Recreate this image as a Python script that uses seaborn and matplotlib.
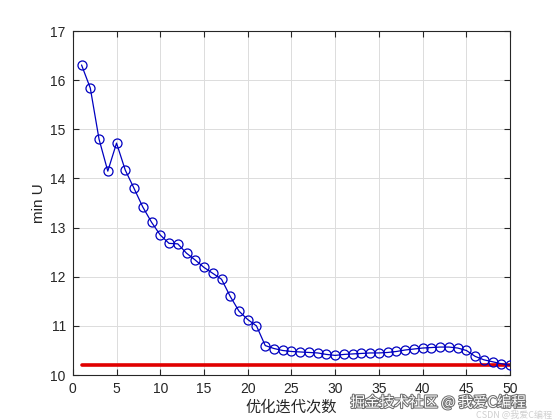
import matplotlib
matplotlib.use("Agg")
import matplotlib.pyplot as plt
import matplotlib.patheffects as pe
import seaborn as sns
import numpy as np
import pandas as pd

iterations = list(range(1, 51))
min_u = [16.31, 15.84, 14.80, 14.15, 14.72, 14.17, 13.80, 13.42, 13.11, 12.85,
         12.68, 12.67, 12.48, 12.34, 12.19, 12.07, 11.95, 11.60, 11.30, 11.13,
         11.00, 10.60, 10.54, 10.50, 10.48, 10.47, 10.46, 10.45, 10.42, 10.40,
         10.42, 10.43, 10.44, 10.45, 10.45, 10.46, 10.48, 10.51, 10.53, 10.55,
         10.56, 10.57, 10.57, 10.55, 10.50, 10.38, 10.31, 10.27, 10.23, 10.20]
ref_value = [10.2] * 50

xticks = [0, 5, 10, 15, 20, 25, 30, 35, 40, 45, 50]
yticks = [10, 11, 12, 13, 14, 15, 16, 17]

df = pd.DataFrame({"iter": iterations, "u": min_u, "ref": ref_value})

sns.set_theme(style="white")
plt.rcParams['font.family'] = ['Liberation Sans', 'Noto Sans CJK SC', 'DejaVu Sans']

fig = plt.figure(figsize=(5.6, 4.2), dpi=100)
ax = fig.add_axes([0.13, 0.107, 0.781, 0.819])

sns.lineplot(data=df, x="iter", y="ref", ax=ax, color="#e00000", linewidth=2.6, zorder=2)
sns.lineplot(data=df, x="iter", y="u", ax=ax, color="#0000c0", linewidth=0.9,
             marker="o", markersize=6.5, markerfacecolor="none",
             markeredgecolor="#0000c0", markeredgewidth=0.9, zorder=3)

ax.set_xlim(0, 50)
ax.set_ylim(10, 17)
ax.set_xticks(xticks)
ax.set_yticks(yticks)
ax.grid(True, color="#dcdcdc", linewidth=0.7)
ax.set_axisbelow(True)
for s in ax.spines.values():
    s.set_color("#262626")
    s.set_linewidth(0.8)
ax.tick_params(direction="in", length=4, width=0.8, color="#262626",
               labelsize=10, labelcolor="#262626", top=True, right=True,
               bottom=True, left=True, pad=5)
ax.set_xlabel("优化迭代次数", fontsize=11, color="#262626", labelpad=3)
ax.set_ylabel("min U", fontsize=11, color="#262626", labelpad=3)

fig.text(0.94, 0.024, "掘金技术社区 @ 我爱C编程", ha="right", va="bottom",
         fontsize=10.5, color="white", family=['Noto Sans CJK SC', 'DejaVu Sans'],
         path_effects=[pe.withStroke(linewidth=1.5, foreground="#707070")])
fig.text(0.985, 0.0, "CSDN @我爱C编程", ha="right", va="bottom",
         fontsize=6.5, color="#d0d0d0", family=['Noto Sans CJK SC', 'DejaVu Sans'])

fig.savefig("out.png", dpi=100)
